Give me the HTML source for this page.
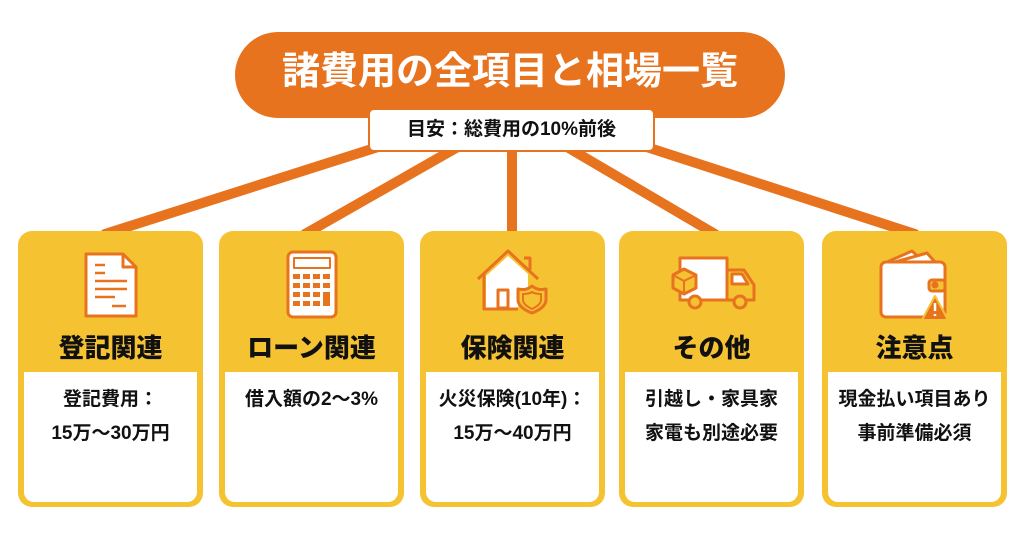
<!DOCTYPE html>
<html><head><meta charset="utf-8"><style>
body{margin:0;width:1024px;height:541px;background:#fff;position:relative;overflow:hidden;font-family:"Liberation Sans","Noto Sans CJK JP",sans-serif;}
.card{position:absolute;top:231px;width:185px;height:276px;background:#F5C232;border-radius:14px;}
.inner{position:absolute;left:6px;right:6px;top:141px;bottom:5px;background:#fff;border-radius:0 0 10px 10px;text-align:center;font-weight:bold;font-size:19px;line-height:34px;padding-top:11px;color:#111;}
.h{position:absolute;left:0;right:0;top:97px;text-align:center;font-weight:900;font-size:26px;color:#111;}
</style></head><body>
<svg width="1024" height="541" style="position:absolute;left:0;top:0">
<g stroke="#E8731F" stroke-width="10" stroke-linecap="round">
<line x1="400" y1="140" x2="105" y2="234"/>
<line x1="470" y1="140" x2="305" y2="234"/>
<line x1="512" y1="140" x2="512" y2="234"/>
<line x1="555" y1="140" x2="715" y2="234"/>
<line x1="625" y1="140" x2="915" y2="234"/>
</g>
</svg>
<div style="position:absolute;left:235px;top:32px;width:550px;height:86px;background:#E8731F;border-radius:43px;color:#fff;font-weight:bold;font-size:38px;text-align:center;line-height:80px;">諸費用の全項目と相場一覧</div>
<div style="position:absolute;left:368px;top:108px;width:283px;height:40px;background:#fff;border:2px solid #E8731F;border-radius:6px;font-weight:bold;font-size:19px;text-align:center;line-height:40px;color:#111;">目安：総費用の10%前後</div>

<div class="card" style="left:18px"><div class="h">登記関連</div><div class="inner">登記費用：<br>15万〜30万円</div></div>
<div class="card" style="left:219px"><div class="h">ローン関連</div><div class="inner">借入額の2〜3%</div></div>
<div class="card" style="left:420px"><div class="h">保険関連</div><div class="inner">火災保険(10年)：<br>15万〜40万円</div></div>
<div class="card" style="left:619px"><div class="h">その他</div><div class="inner">引越し・家具家<br>家電も別途必要</div></div>
<div class="card" style="left:822px"><div class="h">注意点</div><div class="inner">現金払い項目あり<br>事前準備必須</div></div>

<svg width="1024" height="541" style="position:absolute;left:0;top:0" fill="none" stroke="#E8731F" stroke-width="3" stroke-linejoin="round">
<path d="M86 254 H123 L136 267 V316 H86 Z" fill="#fff"/>
<path d="M123 254 V267 H136"/>
<path d="M95 265h10M95 273h10M95 281h32M95 289h32M95 297h20M112 306h14" stroke-width="2.5"/>
<rect x="288" y="252" width="48" height="65" rx="5" fill="#fff"/>
<rect x="294" y="258" width="36" height="10" stroke-width="2"/>
<g fill="#E8731F" stroke="none">
<rect x="293" y="274" width="7" height="5"/><rect x="303" y="274" width="7" height="5"/><rect x="313" y="274" width="7" height="5"/><rect x="323" y="274" width="7" height="5"/>
<rect x="293" y="283" width="7" height="5"/><rect x="303" y="283" width="7" height="5"/><rect x="313" y="283" width="7" height="5"/><rect x="323" y="283" width="7" height="5"/>
<rect x="293" y="292" width="7" height="5"/><rect x="303" y="292" width="7" height="5"/><rect x="313" y="292" width="7" height="5"/><rect x="323" y="292" width="7" height="14"/>
<rect x="293" y="301" width="7" height="5"/><rect x="303" y="301" width="7" height="5"/><rect x="313" y="301" width="7" height="5"/>
</g>
<path d="M486 276 L508 256 L528 274 V290 L518 294 V308 H486 Z" fill="#fff" stroke="none"/>
<path d="M478 279 L508 251 L538 279" />
<path d="M484 274 V309 H518 M530 270 V258 H524" fill="none"/>
<rect x="498" y="290" width="10" height="18" fill="#fff"/>
<path d="M532 286 C527 290 523 290 518 289 V300 C518 306 526 311 532 313 C538 311 546 306 546 300 V289 C541 290 537 290 532 286 Z" fill="#F5C232"/>
<path d="M532 292 C529 294 526 294 523 294 V300 C523 304 528 307 532 309 C536 307 541 304 541 300 V294 C538 294 535 294 532 292 Z" stroke-width="2"/>
<rect x="680" y="258" width="47" height="42" fill="#fff"/>
<path d="M727 270 H744 L754 285 V300 H727 Z" fill="#F5C232"/>
<path d="M732 274 H742 L748 284 H732 Z" fill="#fff"/>
<circle cx="695" cy="302" r="6" fill="#F5C232"/><circle cx="740" cy="302" r="6" fill="#F5C232"/>
<path d="M673 275 L684 269 L696 275 V288 L684 294 L673 288 Z" fill="#F5C232"/>
<path d="M673 275 L684 281 L696 275 M684 281 V294" stroke-width="2"/>
<path d="M887 262 L912 251 L924 262" fill="#fff"/>
<path d="M895 262 L927 253 L935 262" fill="#fff"/>
<rect x="881" y="262" width="64" height="55" rx="5" fill="#fff"/>
<rect x="929" y="280" width="16" height="11" rx="3" fill="#F5C232"/>
<circle cx="935" cy="285" r="2" fill="#E8731F"/>
<path d="M935 296 L948 320 H922 Z" fill="#E8731F" stroke="#F5C232" stroke-width="2"/>
<path d="M935 303 V311 M935 314 V316" stroke="#fff" stroke-width="2.5"/>
</svg>
</body></html>
